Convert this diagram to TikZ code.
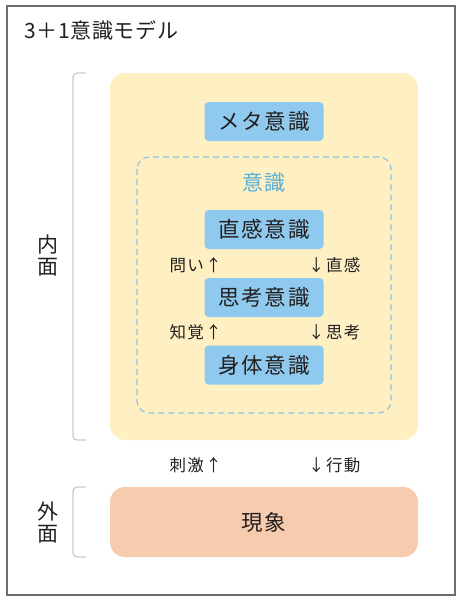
\documentclass[tikz,border=0pt]{standalone}
\usepackage{fontspec}
\setmainfont{Noto Sans CJK JP}
\newfontfamily\jp[LetterSpace=8]{Noto Sans CJK JP}
\newfontfamily\jptitle[LetterSpace=3]{Noto Sans CJK JP}
\definecolor{framegray}{HTML}{6E6E6E}
\definecolor{bracketgray}{HTML}{C9C9C9}
\definecolor{innerfill}{HTML}{FEF0C2}
\definecolor{boxblue}{HTML}{8FCAEE}
\definecolor{dashblue}{HTML}{8FC3E0}
\definecolor{textblue}{HTML}{55AEDC}
\definecolor{outerfill}{HTML}{F7CBAD}
\definecolor{ink}{HTML}{231F20}
\tikzset{
  level/.style={fill=boxblue, rounded corners=4pt, minimum width=119pt, minimum height=39pt, inner sep=0pt, text=ink, font=\jp\fontsize{21.5pt}{21.5pt}\selectfont},
  flow/.style={inner sep=0pt, text=ink, font=\jp\fontsize{16.5pt}{16.5pt}\selectfont},
  bracket/.style={draw=bracketgray, line width=1.2pt, rounded corners=4pt},
  side/.style={text=ink, font=\fontsize{21pt}{21pt}\selectfont, align=center}
}
\begin{document}
\begin{tikzpicture}[x=1pt, y=-1pt]
\useasboundingbox (0,0) rectangle (462,600);
\draw[framegray, line width=1.3pt] (7,6) rectangle (455,595);
\node[anchor=west, text=ink, font=\jptitle\fontsize{21pt}{21pt}\selectfont] (title) at (21,30) {3＋1意識モデル};
% inner side
\fill[innerfill, rounded corners=15pt] (110,73) rectangle (418,440);
\draw[bracket] (86,73) -- (73,73) -- (73,440) -- (86,440);
\node[side] (naimen) at (48,256) {内\\[1pt]面};
\node[level] (meta) at (264,121.5) {メタ意識};
\draw[dashblue, line width=1.2pt, dash pattern=on 6pt off 4pt, rounded corners=12pt] (137,157) rectangle (391,413);
\node[font=\jp\fontsize{21pt}{21pt}\selectfont, text=textblue] (ishiki) at (264,183) {意識};
\node[level] (chokkan) at (264,229.5) {直感意識};
\node[level] (shiko) at (264,297.5) {思考意識};
\node[level] (shintai) at (264,365) {身体意識};
\node[flow, anchor=east] (toi) at (222,265) {問い↑};
\node[flow, anchor=west] (chokkan2) at (308,265) {↓直感};
\node[flow, anchor=east] (chikaku) at (222,332) {知覚↑};
\node[flow, anchor=west] (shiko2) at (308,332) {↓思考};
% outer side
\node[flow, anchor=east] (shigeki) at (222,465) {刺激↑};
\node[flow, anchor=west] (kodo) at (308,465) {↓行動};
\node[fill=outerfill, rounded corners=15pt, minimum width=308pt, minimum height=70pt, inner sep=0pt, text=ink, font=\jp\fontsize{21.5pt}{21.5pt}\selectfont] (gensho) at (264,522) {現象};
\draw[bracket] (86,487) -- (73,487) -- (73,557) -- (86,557);
\node[side] (gaimen) at (48,523) {外\\[1pt]面};
\end{tikzpicture}
\end{document}
